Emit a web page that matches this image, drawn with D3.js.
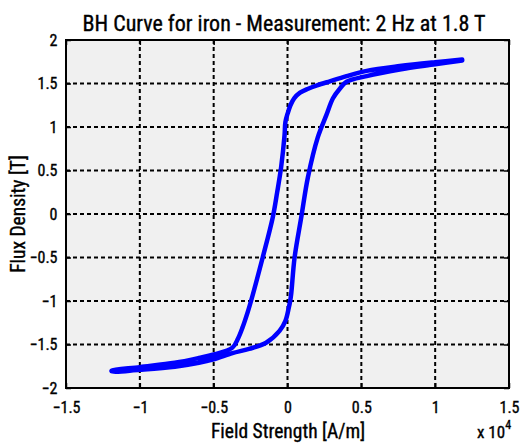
<!DOCTYPE html>
<html>
<head>
<meta charset="utf-8">
<script src="https://cdn.jsdelivr.net/npm/d3@7"></script>
<style>
  html, body { margin: 0; padding: 0; background: #ffffff; }
  svg { display: block; }
  text { font-family: "Liberation Sans Narrow", "Arial Narrow", "Roboto Condensed", "Liberation Sans", sans-serif; fill: #000; stroke: #000; stroke-width: 0.35px; }
</style>
</head>
<body>
<svg id="chart" width="527" height="446"></svg>
<script>
// ---- data (H in A/m, B in T) ----
const titleText = "BH Curve for iron - Measurement: 2 Hz at 1.8 T";
const xLabel = "Field Strength [A/m]";
const yLabel = "Flux Density [T]";
const xTicks = [-15000, -10000, -5000, 0, 5000, 10000, 15000];
const yTicks = [-2, -1.5, -1, -0.5, 0, 0.5, 1, 1.5, 2];
const xExponent = 4;

// descending branch (positive to negative saturation)
const hDown = [11830, 10000, 7600, 5360, 4000, 2860, 2000, 1400, 850, 450, 200, 0, -140, -200, -430, -700, -1000, -1680, -2470, -2700, -3050, -3350, -3730, -5000, -6000, -7630, -10000, -11900];
const bDown = [1.775, 1.745, 1.70, 1.645, 1.585, 1.525, 1.478, 1.44, 1.395, 1.33, 1.25, 1.15, 1.06, 0.905, 0.54, 0.25, -0.04, -0.50, -1.0, -1.13, -1.306, -1.43, -1.536, -1.615, -1.655, -1.71, -1.76, -1.80];
// ascending branch (negative to positive saturation)
const hUp = [-11900, -10000, -7630, -6000, -5000, -3730, -2600, -1450, -540, -140, 90, 180, 250, 480, 930, 1380, 2060, 2630, 3080, 3540, 4000, 5360, 7600, 10000, 11830];
const bUp = [-1.81, -1.79, -1.755, -1.71, -1.67, -1.60, -1.55, -1.48, -1.344, -1.228, -1.075, -1.0, -0.92, -0.50, -0.04, 0.42, 0.886, 1.136, 1.33, 1.44, 1.52, 1.585, 1.66, 1.72, 1.765];

// ---- layout ----
const svg = d3.select("#chart");
const L = 66, R = 509, T = 40, B = 388;
const x = d3.scaleLinear().domain([-15000, 15000]).range([L, R]);
const y = d3.scaleLinear().domain([-2, 2]).range([B, T]);

// plot background
svg.append("rect").attr("x", L).attr("y", T).attr("width", R - L).attr("height", B - T).attr("fill", "#f0f0f0");

// grid
const grid = svg.append("g");
grid.selectAll("line.gx").data(xTicks.slice(1, -1)).join("line")
  .attr("x1", d => x(d)).attr("x2", d => x(d)).attr("y1", T).attr("y2", B)
  .attr("stroke", "#000").attr("stroke-width", 2).attr("stroke-dasharray", "4,3");
grid.selectAll("line.gy").data(yTicks.slice(1, -1)).join("line")
  .attr("y1", d => y(d)).attr("y2", d => y(d)).attr("x1", L).attr("x2", R)
  .attr("stroke", "#000").attr("stroke-width", 2).attr("stroke-dasharray", "4,3");

// curve
const pts = hDown.map((h, i) => [h, bDown[i]]).concat(hUp.map((h, i) => [h, bUp[i]]));
const line = d3.line().x(d => x(d[0])).y(d => y(d[1])).curve(d3.curveCatmullRom.alpha(0.5));
svg.append("path").datum(pts).attr("d", line)
  .attr("fill", "none").attr("stroke", "#0000ff").attr("stroke-width", 4.5)
  .attr("stroke-linejoin", "round").attr("stroke-linecap", "round");

// axes
const fmtX = d => d3.format("")(+(d / Math.pow(10, xExponent)).toFixed(2));
const xAxis = d3.axisBottom(x).tickValues(xTicks).tickSize(-5).tickPadding(13.5).tickFormat(fmtX);
const yAxis = d3.axisLeft(y).tickValues(yTicks).tickSize(-5).tickPadding(8.5).tickFormat(d => d3.format("")(d));
const gx = svg.append("g").attr("transform", `translate(0,${B})`).call(xAxis);
const gy = svg.append("g").attr("transform", `translate(${L},0)`).call(yAxis);
const gxTop = svg.append("g").attr("transform", `translate(0,${T})`).call(d3.axisTop(x).tickValues(xTicks).tickSize(-5).tickFormat(""));
const gyRight = svg.append("g").attr("transform", `translate(${R},0)`).call(d3.axisRight(y).tickValues(yTicks).tickSize(-5).tickFormat(""));
[gx, gy, gxTop, gyRight].forEach(g => {
  g.select(".domain").remove();
  g.selectAll(".tick line").attr("stroke", "#000").attr("stroke-width", 1.5);
  g.selectAll(".tick text").style("font-size", "16px").attr("fill", "#000");
});

// box
svg.append("rect").attr("x", L).attr("y", T).attr("width", R - L).attr("height", B - T)
  .attr("fill", "none").attr("stroke", "#000").attr("stroke-width", 2);

// texts
svg.append("text").attr("x", 284).attr("y", 31).attr("text-anchor", "middle")
  .style("font-size", "22px").text(titleText);
svg.append("text").attr("x", 288).attr("y", 438).attr("text-anchor", "middle")
  .style("font-size", "19.5px").text(xLabel);
svg.append("text").attr("transform", `translate(25,${y(0)}) rotate(-90)`).attr("text-anchor", "middle")
  .style("font-size", "19.5px").text(yLabel);
const ex = svg.append("text").attr("x", 477).attr("y", 438).style("font-size", "17px");
ex.append("tspan").text("x 10");
ex.append("tspan").attr("dy", -9).style("font-size", "12px").text(String(xExponent));
</script>
</body>
</html>
